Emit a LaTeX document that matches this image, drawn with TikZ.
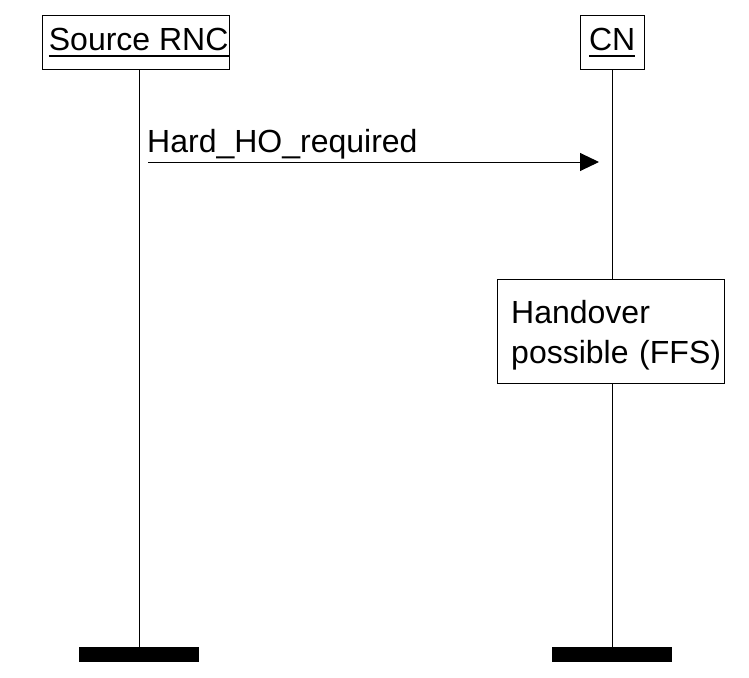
\documentclass[tikz,border=0pt]{standalone}
\usepackage{fontspec}
\setmainfont{Liberation Sans}
\usetikzlibrary{arrows.meta}
\newcommand{\ulname}[1]{\setbox0\hbox{#1}\rlap{\rule[-6.5pt]{\wd0}{2pt}}\box0}

\begin{document}
\begin{tikzpicture}[line cap=butt,line join=miter,>={Triangle[length=19pt,width=18pt]},x=1pt,y=-1pt,
  every node/.style={font=\fontsize{32}{40}\selectfont},
  actor/.style={draw,anchor=north west,minimum height=54pt,inner sep=0pt},
  actbox/.style={draw,anchor=north west,minimum width=227pt,minimum height=104pt,text width=199pt,inner xsep=14pt,align=left},
  endbar/.style={fill=black,minimum width=120pt,minimum height=15pt,inner sep=0pt}]
\useasboundingbox (0,0) rectangle (749,677);
\node[actor,minimum width=187pt] (src) at (42,15) {\hspace*{6pt}\ulname{Source RNC}};
\node[actor,minimum width=64pt] (cn) at (580,15) {\ulname{CN}};
\node[endbar] (srcend) at (139,654.5) {};
\node[endbar] (cnend) at (612,654.5) {};
\node[actbox] (act) at (497,279) {\rule{0pt}{31pt}Handover\\possible~(FFS)};
% lifelines
\draw[line width=1pt] (srcend.north |- src.south) -- (srcend.north);
\draw[line width=1pt] (cnend.north |- cn.south) -- (cnend.north |- act.north);
\draw[line width=1pt] (cnend.north |- act.south) -- (cnend.north);
% message
\coordinate (m1s) at (148,162);
\coordinate (m1e) at (599,162);
\node[anchor=base west,inner sep=0pt] (m1) at (147,152) {Hard\_HO\_required};
\draw[->,line width=1pt] (m1s) -- (m1e);
\end{tikzpicture}
\end{document}
